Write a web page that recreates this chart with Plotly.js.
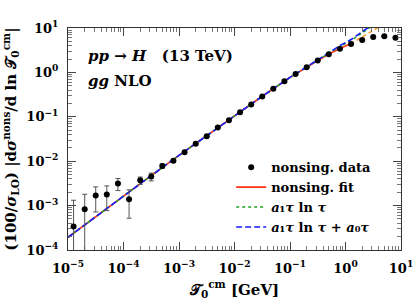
<!DOCTYPE html>
<html>
<head>
<meta charset="utf-8">
<script src="https://cdn.plot.ly/plotly-3.0.1.min.js"></script>
<style>html,body{margin:0;padding:0;background:#fff;}#chart{width:415px;height:307px;}</style>
</head>
<body>
<div id="chart"></div>
<script>
// Data points (nonsingular data)
var dataX = [1.26e-5, 2.0e-5, 3.16e-5, 5.0e-5, 7.94e-5, 1.26e-4, 2.0e-4, 3.16e-4, 5.0e-4, 7.94e-4,
             1.26e-3, 2.0e-3, 3.16e-3, 5.0e-3, 7.94e-3, 1.26e-2, 2.0e-2, 3.16e-2, 5.0e-2, 7.94e-2,
             0.126, 0.2, 0.316, 0.5, 0.794, 1.26, 2.0, 3.16, 5.0, 7.94];
var dataY = [3.4e-4, 8.3e-4, 1.68e-3, 1.77e-3, 3.13e-3, 1.39e-3, 3.7e-3, 4.5e-3, 7.8e-3, 1.03e-2,
             1.6e-2, 2.47e-2, 3.66e-2, 5.73e-2, 8.35e-2, 0.126, 0.19, 0.288, 0.429, 0.63,
             0.916, 1.31, 1.85, 2.57, 3.43, 4.38, 5.38, 6.29, 6.51, 6.06];
var dataErr = [9.8e-4, 9.7e-4, 9.6e-4, 1.0e-3, 9.5e-4, 8.7e-4, 7.0e-4, 9.0e-4, 8.6e-4, 9.0e-4,
               0, 0, 0, 0, 0, 0, 0, 0, 0, 0, 0, 0, 0, 0, 0, 0, 0, 0, 0, 0];

// Nonsingular fit (solid) and its extrapolation (dashed)
var fitX = [1e-5, 3.16e-5, 1e-4, 3.16e-4, 1e-3, 3.16e-3, 1e-2, 3.16e-2, 0.1, 0.316, 0.5, 0.794, 1.23];
var fitY = [1.93e-4, 5.65e-4, 1.64e-3, 4.74e-3, 1.35e-2, 3.8e-2, 0.105, 0.29, 0.77, 1.88, 2.6, 3.45, 4.4];
var extX = [1.23, 2.0, 4.0];
var extY = [4.4, 6.3, 10.5];

// a1 tau ln tau
var lnX = [1e-5, 3.16e-5, 1e-4, 3.16e-4, 1e-3, 3.16e-3, 1e-2, 3.16e-2, 0.1, 0.316, 0.5, 0.794, 1.26, 1.78, 2.82];
var lnY = [1.93e-4, 5.65e-4, 1.64e-3, 4.74e-3, 1.35e-2, 3.8e-2, 0.105, 0.29, 0.77, 1.92, 2.75, 3.85, 5.2, 7.0, 10.5];

// a1 tau ln tau + a0 tau
var fullX = [1e-5, 3.16e-5, 1e-4, 3.16e-4, 1e-3, 3.16e-3, 1e-2, 3.16e-2, 0.1, 0.316, 0.5, 0.794, 1.26, 1.78, 2.63];
var fullY = [1.93e-4, 5.65e-4, 1.64e-3, 4.74e-3, 1.35e-2, 3.8e-2, 0.105, 0.29, 0.77, 1.97, 2.85, 4.0, 5.5, 7.5, 10.5];

// Tick labels
var xTickVals = [1e-5, 1e-4, 1e-3, 1e-2, 1e-1, 1, 10];
var xTickText = ['<b>10<sup>−5</sup></b>', '<b>10<sup>−4</sup></b>', '<b>10<sup>−3</sup></b>', '<b>10<sup>−2</sup></b>', '<b>10<sup>−1</sup></b>', '<b>10<sup>0</sup></b>', '<b>10<sup>1</sup></b>'];
var yTickVals = [1e-4, 1e-3, 1e-2, 1e-1, 1, 10];
var yTickText = ['<b>10<sup>−4</sup></b>', '<b>10<sup>−3</sup></b>', '<b>10<sup>−2</sup></b>', '<b>10<sup>−1</sup></b>', '<b>10<sup>0</sup></b>', '<b>10<sup>1</sup></b>'];

var legendNames = ['<b>nonsing. data</b>', '<b>nonsing. fit</b>', '<b><i>a</i>₁<i>τ</i> ln <i>τ</i></b>', '<b><i>a</i>₁<i>τ</i> ln <i>τ</i> + <i>a</i>₀<i>τ</i></b>'];

var FONT = 'DejaVu Serif';

var traces = [
  {x: fitX, y: fitY, mode: 'lines', name: legendNames[1], legendrank: 2,
   line: {color: '#ff3010', width: 1.6}},
  {x: extX, y: extY, mode: 'lines', showlegend: false,
   line: {color: '#ff9a30', width: 1.6, dash: '4px,3px'}},
  {x: lnX, y: lnY, mode: 'lines', name: legendNames[2], legendrank: 3,
   line: {color: '#20a020', width: 1.6, dash: 'dot'}},
  {x: fullX, y: fullY, mode: 'lines', name: legendNames[3], legendrank: 4,
   line: {color: '#1a1aff', width: 1.6, dash: '6px,3px'}},
  {x: dataX, y: dataY, mode: 'markers', name: legendNames[0], legendrank: 1,
   marker: {color: '#000', size: 6},
   error_y: {type: 'data', array: dataErr, visible: true, color: '#555', thickness: 1, width: 2.5}}
];

var axisCommon = {
  type: 'log',
  showgrid: false,
  zeroline: false,
  showline: true,
  linecolor: '#333',
  linewidth: 1,
  mirror: 'allticks',
  ticks: 'inside',
  ticklen: 8,
  tickwidth: 1,
  tickcolor: '#444',
  tickmode: 'array',
  tickfont: {family: FONT, size: 13, color: '#000'},
  minor: {ticks: 'inside', ticklen: 4, tickwidth: 0.8, tickcolor: '#555', dtick: 'D1', showgrid: false}
};

var layout = {
  width: 415, height: 307,
  margin: {l: 68, r: 14, t: 28, b: 57},
  paper_bgcolor: '#fff', plot_bgcolor: '#fff',
  showlegend: true,
  xaxis: Object.assign({}, axisCommon, {
    range: [-5, 1],
    tickvals: xTickVals, ticktext: xTickText,
    ticklabelstandoff: 6,
    title: {text: '<b>𝒯<sub>0</sub><sup>cm</sup> [GeV]</b>', font: {family: FONT, size: 15, color: '#000'}, standoff: 9}
  }),
  yaxis: Object.assign({}, axisCommon, {
    range: [-4, 1],
    tickvals: yTickVals, ticktext: yTickText,
    ticklabelstandoff: 6,
    title: {text: '<b>(100/<i>σ</i><sub>LO</sub>) |d<i>σ</i><sup>nons</sup>/d ln 𝒯<sub>0</sub><sup>cm</sup>|</b>', font: {family: FONT, size: 15, color: '#000'}, standoff: 6}
  }),
  legend: {
    x: 0.49, y: 0.44, xanchor: 'left', yanchor: 'top',
    bgcolor: 'rgba(0,0,0,0)', borderwidth: 0,
    font: {family: FONT, size: 13, color: '#000'},
    tracegroupgap: 0
  },
  annotations: [
    {xref: 'paper', yref: 'paper', x: 0.054, y: 0.872, xanchor: 'left', yanchor: 'middle', showarrow: false,
     text: '<b><i>pp</i>&nbsp;→&nbsp;<i>H</i>&nbsp;&nbsp; (13&nbsp;TeV)</b>', font: {family: FONT, size: 15, color: '#000'}},
    {xref: 'paper', yref: 'paper', x: 0.054, y: 0.76, xanchor: 'left', yanchor: 'middle', showarrow: false,
     text: '<b><i>gg</i> NLO</b>', font: {family: FONT, size: 15, color: '#000'}}
  ]
};

Plotly.newPlot('chart', traces, layout, {staticPlot: true, displayModeBar: false});
</script>
</body>
</html>
